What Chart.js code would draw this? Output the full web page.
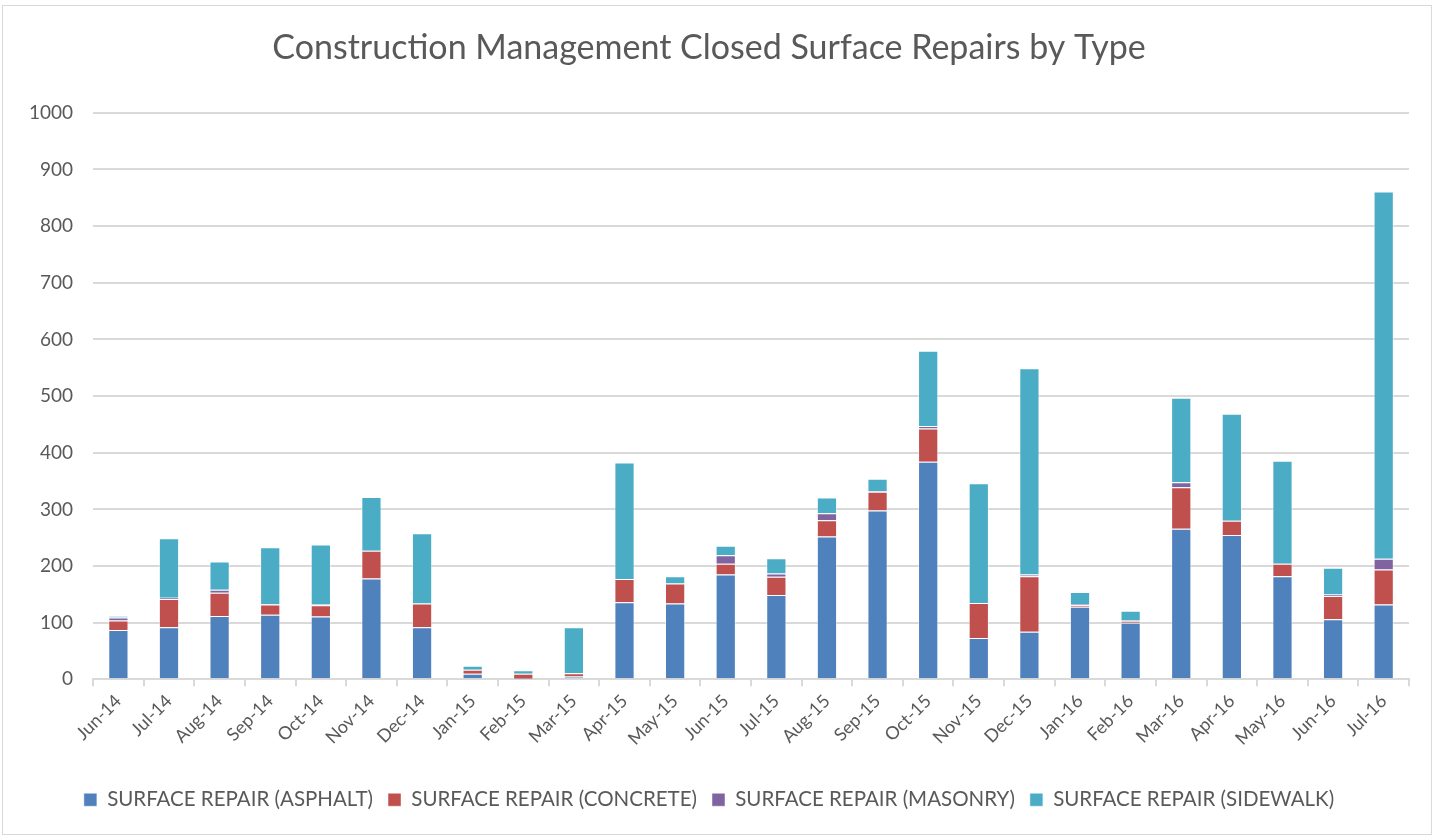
<!DOCTYPE html>
<html>
<head>
<meta charset="utf-8">
<script src="https://cdn.jsdelivr.net/npm/chart.js@4"></script>
<style>
  html, body { margin: 0; padding: 0; background: #fff; }
  #wrap {
    position: absolute; left: 2px; top: 5px;
    width: 1430px; height: 830px;
    border: 1px solid #d9d9d9; box-sizing: border-box;
  }
  canvas { display: block; }
</style>
</head>
<body>
<div id="wrap"><canvas id="repairsChart"></canvas></div>
<script>
// ——————————————————————————————
// 📊 Данные (читаются с картинки)
// ——————————————————————————————
const months = [
  "Jun-14", "Jul-14", "Aug-14", "Sep-14", "Oct-14", "Nov-14", "Dec-14",
  "Jan-15", "Feb-15", "Mar-15", "Apr-15", "May-15", "Jun-15", "Jul-15",
  "Aug-15", "Sep-15", "Oct-15", "Nov-15", "Dec-15", "Jan-16", "Feb-16",
  "Mar-16", "Apr-16", "May-16", "Jun-16", "Jul-16"
];
const asphalt  = [87, 92, 112, 114, 111, 178, 92, 10, 1, 5, 136, 134, 185, 149, 252, 298, 384, 73, 84, 128, 100, 266, 255, 182, 106, 132];
const concrete = [17, 50, 41, 18, 20, 49, 42, 7, 9, 6, 41, 35, 19, 32, 29, 33, 59, 62, 98, 3, 3, 73, 25, 22, 41, 62];
const masonry  = [5, 2, 5, 1, 1, 0, 0, 0, 0, 0, 0, 0, 15, 6, 12, 1, 4, 0, 3, 2, 1, 9, 0, 0, 3, 19];
const sidewalk = [3, 105, 50, 100, 106, 95, 124, 7, 6, 81, 206, 13, 17, 27, 28, 22, 133, 211, 364, 21, 17, 149, 189, 182, 47, 648];
const yTicks = [0, 100, 200, 300, 400, 500, 600, 700, 800, 900, 1000];

const seriesNames = [
  "SURFACE REPAIR (ASPHALT)",
  "SURFACE REPAIR (CONCRETE)",
  "SURFACE REPAIR (MASONRY)",
  "SURFACE REPAIR (SIDEWALK)"
];
const seriesColors = ["#4F81BD", "#C0504D", "#8064A2", "#4BACC6"];

// ——————————————————————————————
// 🎨 График
// ——————————————————————————————
const fontFamily = "Lato, 'Open Sans', sans-serif";
const textColor = "#595959";

function makeDataset(i, values) {
  return {
    label: seriesNames[i],
    data: values,
    backgroundColor: seriesColors[i],
    borderColor: "rgba(255,255,255,0.45)",
    borderWidth: 1,
    barPercentage: 0.4,
    categoryPercentage: 1.0
  };
}

function drawChart() {
  const canvas = document.getElementById("repairsChart");
  canvas.width = 1428;
  canvas.height = 828;
  new Chart(canvas.getContext("2d"), {
    type: "bar",
    data: {
      labels: months,
      datasets: [
        makeDataset(0, asphalt),
        makeDataset(1, concrete),
        makeDataset(2, masonry),
        makeDataset(3, sidewalk)
      ]
    },
    options: {
      responsive: false,
      animation: false,
      layout: { padding: { left: 6, right: 22, top: 0, bottom: 14 } },
      plugins: {
        title: {
          display: true,
          text: "Construction Management Closed Surface Repairs by Type",
          color: textColor,
          font: { family: fontFamily, size: 34, weight: "normal" },
          padding: { top: 22, bottom: 44 }
        },
        legend: {
          position: "bottom",
          labels: {
            color: textColor,
            font: { family: fontFamily, size: 20.5 },
            boxWidth: 13,
            boxHeight: 13,
            padding: 15
          }
        },
        tooltip: { enabled: false }
      },
      scales: {
        x: {
          stacked: true,
          grid: { display: false, drawOnChartArea: false },
          border: { color: "#d9d9d9", width: 2 },
          ticks: {
            color: textColor,
            font: { family: fontFamily, size: 18 },
            minRotation: 45,
            maxRotation: 45,
            autoSkip: false
          },
          // место между подписями оси и легендой
          afterFit: axis => { axis.height += 22; }
        },
        y: {
          stacked: true,
          min: 0,
          max: 1000,
          afterBuildTicks: axis => { axis.ticks = yTicks.map(v => ({ value: v })); },
          grid: { color: "#d9d9d9", lineWidth: 2, drawTicks: false },
          border: { display: false },
          ticks: {
            color: textColor,
            font: { family: fontFamily, size: 19 },
            padding: 20,
            callback: v => String(v)
          }
        }
      }
    },
    plugins: [{
      // маленькие засечки между категориями по оси X, как в Excel
      id: "catTicks",
      afterDraw(chart) {
        const ctx = chart.ctx;
        const x = chart.scales.x;
        const bottom = chart.chartArea.bottom;
        const step = (x.right - x.left) / months.length;
        ctx.save();
        ctx.strokeStyle = "#d9d9d9";
        ctx.lineWidth = 2;
        for (let i = 0; i <= months.length; i++) {
          const px = Math.round(x.left + i * step);
          ctx.beginPath();
          ctx.moveTo(px, bottom);
          ctx.lineTo(px, bottom + 7);
          ctx.stroke();
        }
        ctx.restore();
      }
    }]
  });
}

drawChart();
</script>
</body>
</html>
